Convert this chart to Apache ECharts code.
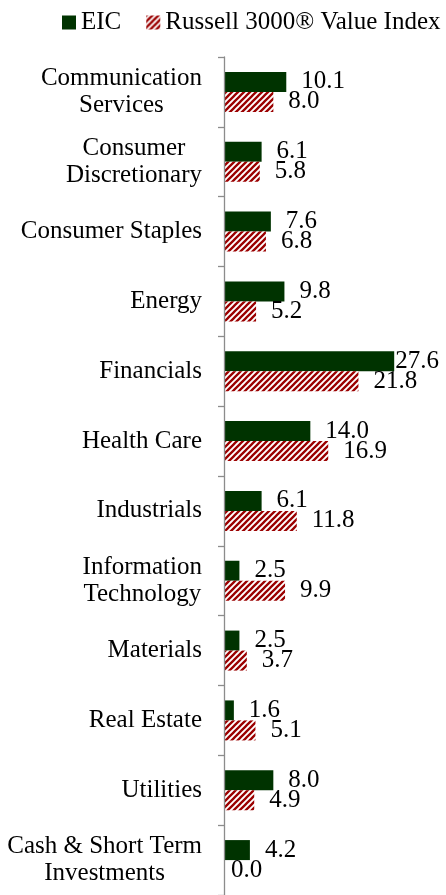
<!DOCTYPE html>
<html>
<head>
<meta charset="utf-8">
<script src="https://cdn.jsdelivr.net/npm/echarts@6/dist/echarts.min.js"></script>
<style>
html,body{margin:0;padding:0;background:#fff;}
#chart{width:446px;height:895px;}
</style>
</head>
<body>
<div id="chart"></div>
<script>
var categories = [
  "Communication\nServices",
  "Consumer\nDiscretionary",
  "Consumer Staples",
  "Energy",
  "Financials",
  "Health Care",
  "Industrials",
  "Information\nTechnology",
  "Materials",
  "Real Estate",
  "Utilities",
  "Cash & Short Term\nInvestments"
];
var eicValues = [10.1, 6.1, 7.6, 9.8, 27.6, 14.0, 6.1, 2.5, 2.5, 1.6, 8.0, 4.2];
var russellValues = [8.0, 5.8, 6.8, 5.2, 21.8, 16.9, 11.8, 9.9, 3.7, 5.1, 4.9, 0.0];
var seriesNames = ["EIC", "Russell 3000\u00AE Value Index"];

var FONT = "'Liberation Serif', 'Times New Roman', serif";
var GREEN = "#003300";
var RED = "#9b0000";

function makeHatch() {
  var s = 6;
  var c = document.createElement('canvas');
  c.width = s; c.height = s;
  var ctx = c.getContext('2d');
  ctx.fillStyle = '#ffffff';
  ctx.fillRect(0, 0, s, s);
  ctx.strokeStyle = RED;
  ctx.lineWidth = 2.3;
  ctx.beginPath();
  ctx.moveTo(-1, s + 1); ctx.lineTo(s + 1, -1);
  ctx.moveTo(-s / 2 - 1, s / 2 + 1); ctx.lineTo(s / 2 + 1, -s / 2 - 1);
  ctx.moveTo(s / 2 - 1, s * 1.5 + 1); ctx.lineTo(s * 1.5 + 1, s / 2 - 1);
  ctx.stroke();
  return c;
}
var hatch = { image: makeHatch(), repeat: 'repeat' };

var XMAX = 30;
function buildData(values) {
  return values.map(function (v) {
    var item = { value: v };
    if (v === 0) {
      item.label = { distance: 7 };
    } else if (v >= 27) {
      item.label = { distance: 1 };
    }
    return item;
  });
}

var chart = echarts.init(document.getElementById('chart'), null, { renderer: 'canvas' });
var labelStyle = {
  show: true,
  position: 'right',
  distance: 15,
  fontFamily: FONT,
  fontSize: 25,
  color: '#000',
  formatter: function (p) { return p.value.toFixed(1); }
};

chart.setOption({
  animation: false,
  backgroundColor: '#fff',
  legend: {
    left: 62,
    top: 10,
    width: 420,
    padding: 0,
    itemWidth: 14,
    itemHeight: 14,
    itemGap: 25,
    icon: 'rect',
    textStyle: { fontFamily: FONT, fontSize: 25, color: '#000' },
    data: seriesNames
  },
  grid: { left: 224, top: 57, width: 185, height: 845, containLabel: false },
  xAxis: {
    type: 'value', min: 0, max: XMAX, show: false
  },
  yAxis: {
    type: 'category',
    inverse: true,
    data: categories,
    z: 5,
    axisLine: { show: true, lineStyle: { color: '#8c8c8c', width: 1.3 } },
    axisTick: { show: true, length: 6, lineStyle: { color: '#8c8c8c', width: 1.3 } },
    splitLine: { show: false },
    axisLabel: {
      interval: 0,
      margin: 22,
      color: '#000',
      fontFamily: FONT,
      fontSize: 25,
      lineHeight: 27,
      formatter: function (val) {
        return val.split('\n').map(function (l) { return '{c|' + l + '}'; }).join('\n');
      },
      rich: {
        c: { align: 'center', fontFamily: FONT, fontSize: 25, lineHeight: 27, color: '#000' }
      }
    }
  },
  series: [
    {
      name: seriesNames[0],
      type: 'bar',
      data: buildData(eicValues),
      barWidth: 20,
      barGap: '0%',
      itemStyle: { color: GREEN },
      label: labelStyle
    },
    {
      name: seriesNames[1],
      type: 'bar',
      data: buildData(russellValues),
      barWidth: 20,
      barGap: '0%',
      itemStyle: { color: hatch },
      label: labelStyle
    }
  ]
});
</script>
</body>
</html>
